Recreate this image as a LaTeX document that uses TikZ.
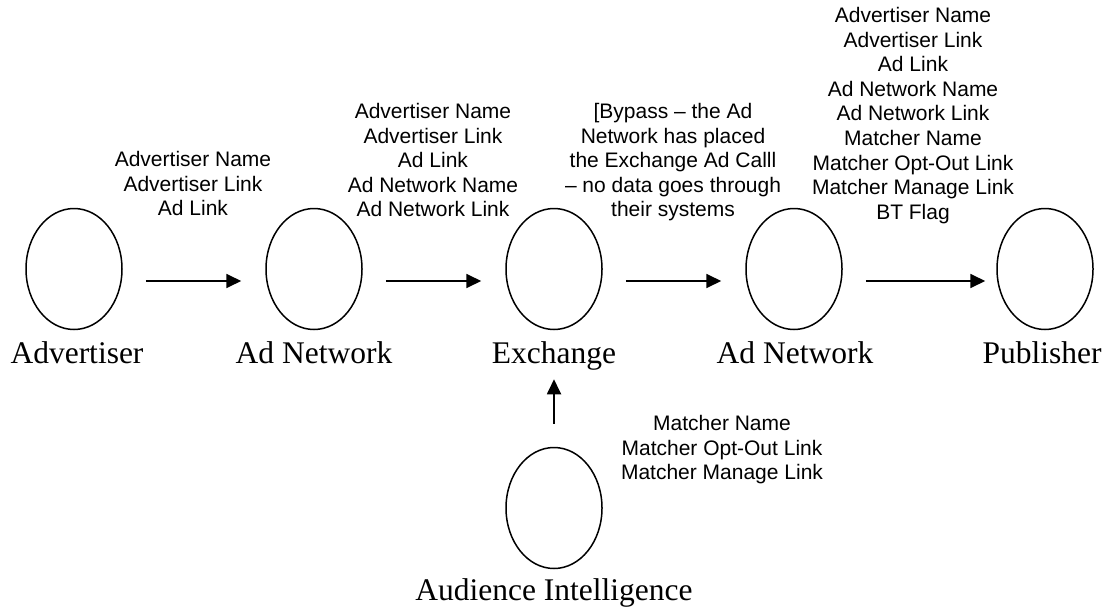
\documentclass[tikz,border=0pt]{standalone}
\usepackage{fontspec}
\setmainfont{Liberation Serif}
\newfontfamily\infofont{Liberation Sans}
\usepackage{tikz}
\usetikzlibrary{arrows.meta}
\usetikzlibrary{positioning}
\usetikzlibrary{shapes.geometric}
\tikzstyle{party} = [ellipse, draw=black, line width=1.5pt, minimum width=96pt, minimum height=121pt, inner sep=0pt]
\tikzstyle{who} = [anchor=base, inner sep=0pt, font=\fontsize{31.5}{36}\selectfont]
\tikzstyle{info} = [anchor=north, inner sep=0pt, align=center, font=\infofont\fontsize{21}{24.6}\selectfont]
\tikzstyle{flow} = [-{Triangle[length=15pt,width=14pt]}, line width=1.8pt, shorten <=23pt, shorten >=24pt]

\begin{document}
\begin{tikzpicture}[x=1pt, y=-1pt]

  \useasboundingbox (0,0) rectangle (1107,610);

  % parties
  \node[party] (adv)  at (74,269)   {};
  \node[party] (net1) at (314,269)  {};
  \node[party] (exch) at (554,269)  {};
  \node[party] (net2) at (794,269)  {};
  \node[party] (pub)  at (1045,269) {};
  \node[party] (aud)  at (554,508)  {};

  \node[who] (advname)  at (77,363)   {Advertiser};
  \node[who] (net1name) at (314,363)  {Ad Network};
  \node[who] (exchname) at (554,363)  {Exchange};
  \node[who] (net2name) at (795,363)  {Ad Network};
  \node[who] (pubname)  at (1042,363) {Publisher};
  \node[who] (audname)  at (554,600)  {Audience Intelligence};

  % data passed along
  \draw[flow] ([yshift=-12pt]adv.east) -- ([yshift=-12pt]net1.west);
  \draw[flow] ([yshift=-12pt]net1.east) -- ([yshift=-12pt]exch.west);
  \draw[flow] ([yshift=-12pt]exch.east) -- ([yshift=-12pt]net2.west);
  \draw[flow, shorten >=11pt] ([yshift=-12pt]net2.east) -- ([yshift=-12pt]pub.west);
  \draw[flow, shorten >=49pt] (aud.north) -- (exch.south);

  \node[info] (data1) at (193,151) {Advertiser Name\\Advertiser Link\\Ad Link};
  \node[info] (data2) at (433,103) {Advertiser Name\\Advertiser Link\\Ad Link\\Ad Network Name\\Ad Network Link};
  \node[info] (data3) at (673,103) {[Bypass – the Ad\\Network has placed\\the Exchange Ad Calll\\– no data goes through\\their systems};
  \node[info] (data4) at (913,7) {Advertiser Name\\Advertiser Link\\Ad Link\\Ad Network Name\\Ad Network Link\\Matcher Name\\Matcher Opt-Out Link\\Matcher Manage Link\\BT Flag};
  \node[info] (data5) at (722,415) {Matcher Name\\Matcher Opt-Out Link\\Matcher Manage Link};

\end{tikzpicture}
\end{document}
